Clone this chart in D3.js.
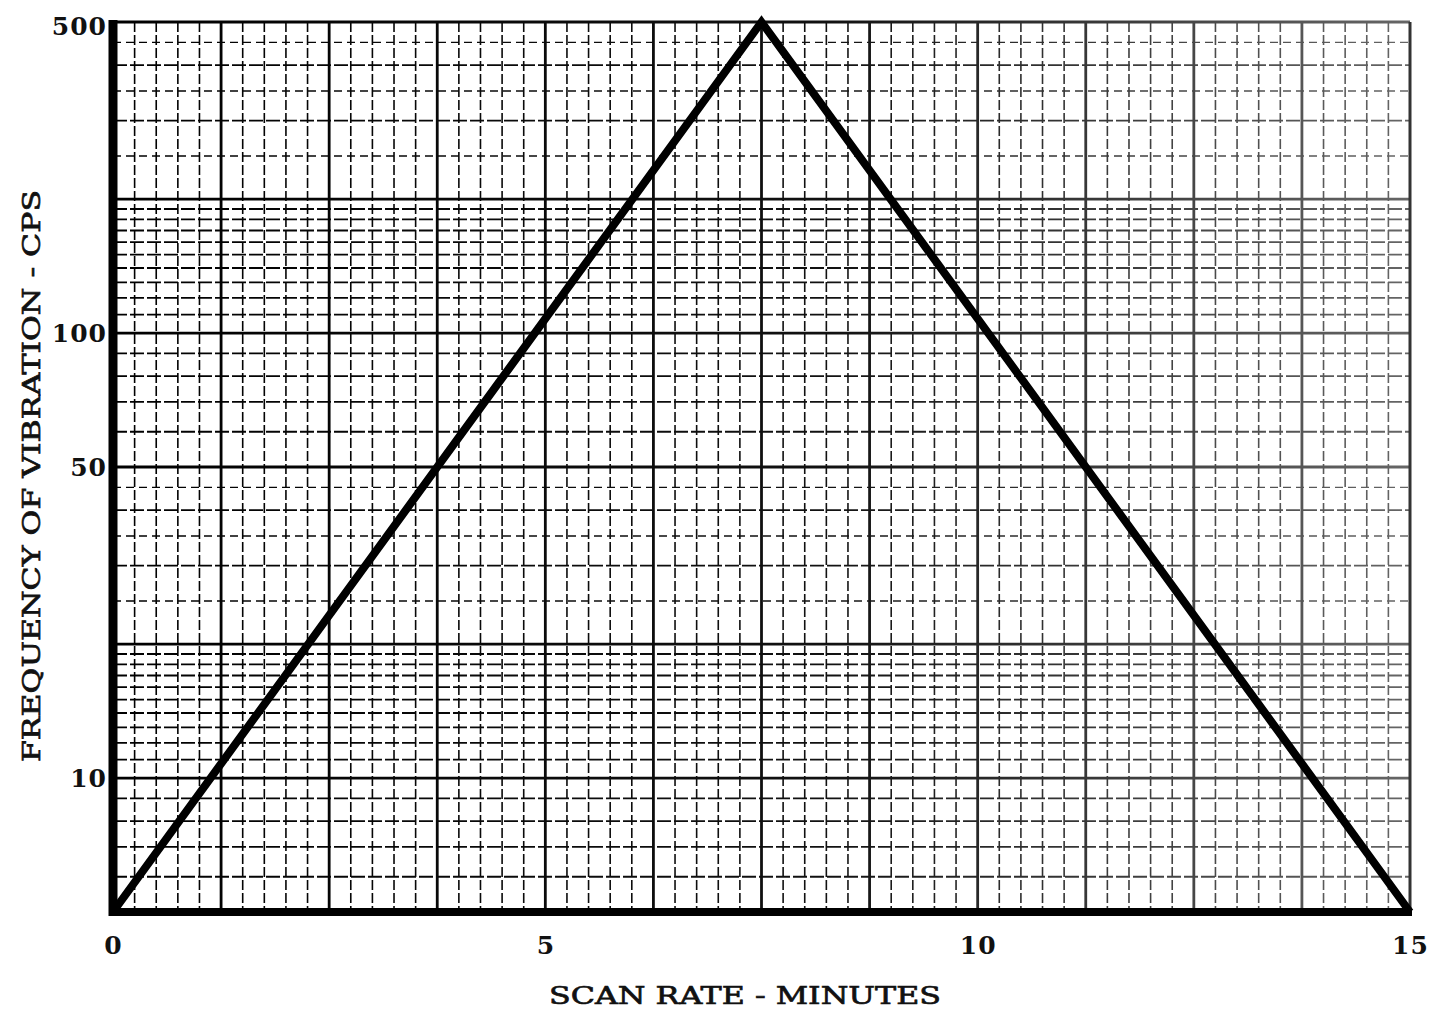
<!DOCTYPE html>
<html>
<head>
<meta charset="utf-8">
<script src="https://cdn.jsdelivr.net/npm/d3@7"></script>
<style>
  body { margin: 0; background: #fff; }
  svg { display: block; }
  .tick-label { font-family: "DejaVu Serif", serif; font-weight: bold; font-size: 25px; fill: #111; }
  .axis-title { font-family: "DejaVu Serif", serif; font-size: 25px; fill: #111; stroke: #111; stroke-width: 0.7px; }
</style>
</head>
<body>
<div id="chart"></div>
<script>
// sweep profile: frequency vs time
const scanMinutes = [0, 7.5, 15];
const frequencyCps = [5, 500, 5];

const xTickValues = [0, 5, 10, 15];
const yTickValues = [10, 50, 100, 500];

// semi-log paper rulings inside one decade
const paperSolid = [1, 1.1, 1.2, 1.3, 1.4, 1.5, 1.6, 1.7, 1.8, 1.9, 2, 3, 4, 5, 6, 7, 8, 9];
const paperDashed = [2.5, 3.5, 4.5];
const paperHeavy = [1, 2, 5];

const config = {
  width: 1447,
  height: 1014,
  margin: { top: 22, right: 37, bottom: 102, left: 113 },
};

const svg = d3
  .select("#chart")
  .append("svg")
  .attr("width", config.width)
  .attr("height", config.height);

const width = config.width - config.margin.left - config.margin.right;
const height = config.height - config.margin.top - config.margin.bottom;

const g = svg
  .append("g")
  .attr("transform", `translate(${config.margin.left},${config.margin.top})`);

const xScale = d3.scaleLinear().domain([0, 15]).range([0, width]);
const yScale = d3.scaleLog().domain([5, 500]).range([height, 0]);

// scanned paper fades toward the right
const defs = svg.append("defs");
const fade = defs
  .append("linearGradient")
  .attr("id", "fade")
  .attr("gradientUnits", "userSpaceOnUse")
  .attr("x1", 0)
  .attr("x2", width)
  .attr("y1", 0)
  .attr("y2", 0);
fade.append("stop").attr("offset", 0).attr("stop-color", "#000");
fade.append("stop").attr("offset", 0.55).attr("stop-color", "#111");
fade.append("stop").attr("offset", 1).attr("stop-color", "#666");

const grid = g.append("g").attr("stroke", "url(#fade)");

const isMajorX = (d) => Math.abs(d / 1.25 - Math.round(d / 1.25)) < 1e-6;

// vertical rulings every quarter minute, heavier every 1.25 min
const vLines = d3.range(1, 60).map((i) => i * 0.25);
grid
  .selectAll(".vline")
  .data(vLines)
  .join("line")
  .attr("class", "vline")
  .attr("x1", (d) => xScale(d))
  .attr("x2", (d) => xScale(d))
  .attr("y1", 0)
  .attr("y2", height)
  .attr("stroke-width", (d) => (isMajorX(d) ? 2.8 : 1.6))
  .attr("stroke-dasharray", (d) => (isMajorX(d) ? null : "10,3"));

// horizontal log rulings
const hLines = [];
[1, 10, 100].forEach((dec) => {
  paperSolid.forEach((m) => hLines.push({ v: m * dec, kind: paperHeavy.includes(m) ? "heavy" : "solid" }));
  paperDashed.forEach((m) => hLines.push({ v: m * dec, kind: "dashed" }));
});
const hVisible = hLines.filter((d) => d.v > 5 && d.v < 500);

grid
  .selectAll(".hline")
  .data(hVisible)
  .join("line")
  .attr("class", "hline")
  .attr("x1", 0)
  .attr("x2", width)
  .attr("y1", (d) => yScale(d.v))
  .attr("y2", (d) => yScale(d.v))
  .attr("stroke-width", (d) => (d.kind === "heavy" ? 2.8 : d.kind === "solid" ? 1.8 : 1.4))
  .attr("stroke-dasharray", (d) => (d.kind === "dashed" ? "8,5" : d.kind === "solid" ? "14,3" : null));

// frame: heavy left and bottom, lighter top and right
g.append("line")
  .attr("x1", 0).attr("x2", width)
  .attr("y1", 0).attr("y2", 0)
  .attr("stroke", "url(#fade)").attr("stroke-width", 3);
g.append("line")
  .attr("x1", width).attr("x2", width)
  .attr("y1", 0).attr("y2", height)
  .attr("stroke", "#333").attr("stroke-width", 3);
g.append("line")
  .attr("x1", 0).attr("x2", 0)
  .attr("y1", -2).attr("y2", height + 4)
  .attr("stroke", "#000").attr("stroke-width", 9);
g.append("line")
  .attr("x1", -4).attr("x2", width + 2)
  .attr("y1", height).attr("y2", height)
  .attr("stroke", "#000").attr("stroke-width", 8);

// the sweep line
const line = d3
  .line()
  .x((d) => xScale(d[0]))
  .y((d) => yScale(d[1]));

g.append("path")
  .datum(d3.zip(scanMinutes, frequencyCps))
  .attr("d", line)
  .attr("fill", "none")
  .attr("stroke", "#000")
  .attr("stroke-width", 8)
  .attr("stroke-linejoin", "miter");

// axes
const xAxis = d3.axisBottom(xScale).tickValues(xTickValues).tickSize(0).tickFormat(d3.format("d"));
const yAxis = d3.axisLeft(yScale).tickValues(yTickValues).tickSize(0).tickFormat(d3.format("d"));

const xAxisGroup = g
  .append("g")
  .attr("transform", `translate(0, ${height})`)
  .call(xAxis);
xAxisGroup.select(".domain").remove();
xAxisGroup
  .selectAll("text")
  .attr("class", "tick-label")
  .attr("y", 42)
  .attr("dy", 0)
  .attr("letter-spacing", 1);

const yAxisGroup = g.append("g").call(yAxis);
yAxisGroup.select(".domain").remove();
yAxisGroup
  .selectAll("text")
  .attr("class", "tick-label")
  .attr("x", -6)
  .attr("dy", (d) => (d === 500 ? "0.5em" : "0.35em"))
  .attr("letter-spacing", 1);

svg
  .append("text")
  .attr("class", "axis-title")
  .attr("x", 745)
  .attr("y", 1004)
  .attr("text-anchor", "middle")
  .attr("textLength", 392)
  .attr("lengthAdjust", "spacingAndGlyphs")
  .text("SCAN RATE - MINUTES");

svg
  .append("text")
  .attr("class", "axis-title")
  .attr("transform", "translate(40, 476) rotate(-90)")
  .attr("text-anchor", "middle")
  .attr("textLength", 572)
  .attr("lengthAdjust", "spacingAndGlyphs")
  .text("FREQUENCY OF VIBRATION - CPS");
</script>
</body>
</html>
